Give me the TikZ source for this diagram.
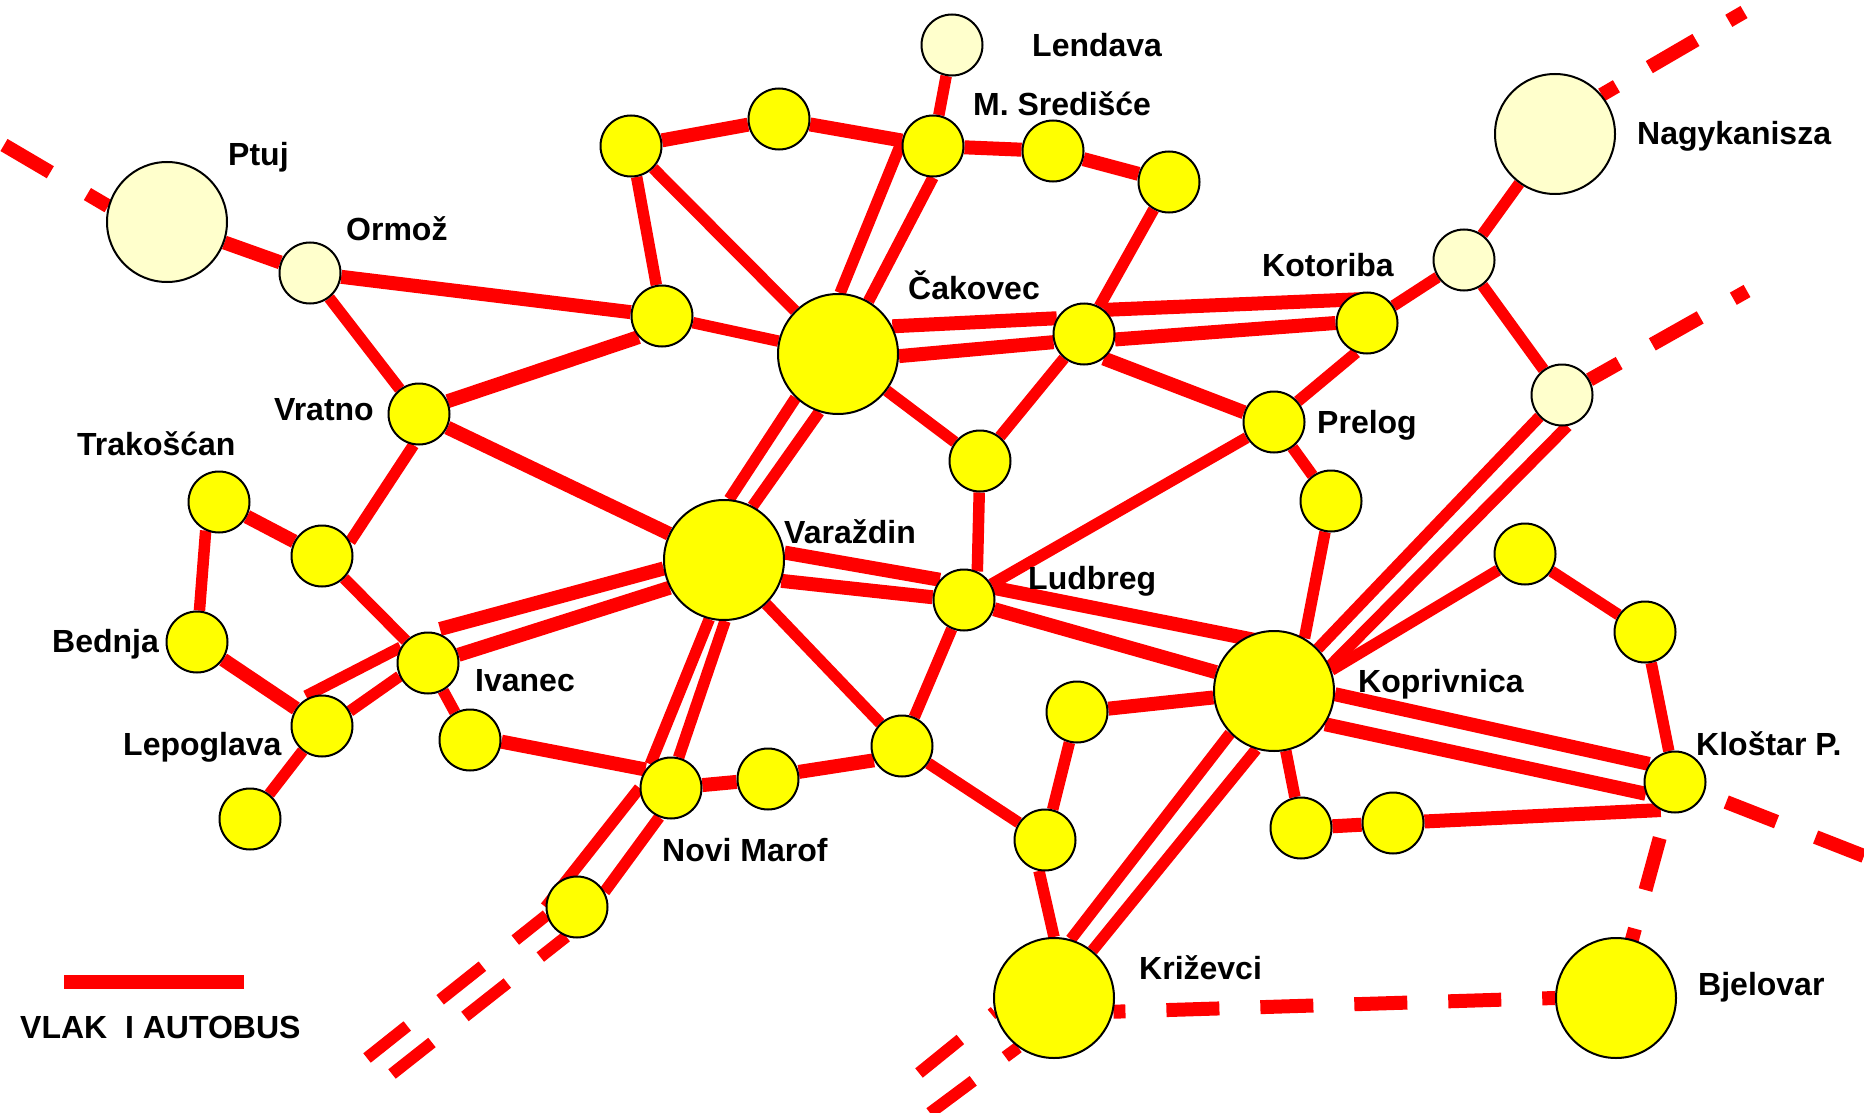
\documentclass[tikz,border=0pt]{standalone}
\usepackage{fontspec}
\setmainfont{Liberation Sans}
\usetikzlibrary{backgrounds}
\definecolor{blijeda}{RGB}{255,255,204}
\definecolor{zuta}{RGB}{255,255,0}
\definecolor{crvena}{RGB}{255,0,0}
\tikzstyle{mala} = [circle, draw=black, line width=2pt, fill=zuta, minimum size=61pt, inner sep=0pt]
\tikzstyle{velika} = [mala, minimum size=120pt]
\tikzstyle{vanjska} = [fill=blijeda]
\tikzstyle{naziv} = [anchor=base west, inner sep=0pt, font=\fontsize{32pt}{36pt}\selectfont\bfseries]
\tikzstyle{veza} = [draw=crvena, line width=14pt]
\tikzstyle{tanka} = [draw=crvena, line width=11.5pt]
\tikzstyle{crtkana} = [veza, dash pattern=on 54pt off 40pt]
\tikzstyle{crtkana2} = [tanka, line width=12pt, dash pattern=on 54pt off 42pt]
\begin{document}
\begin{tikzpicture}[x=1pt, y=-1pt]
	\useasboundingbox (0,0) rectangle (1864,1113);
	\node[velika, vanjska] (ptuj) at (167,222) {};
	\node[mala, vanjska] (ormoz) at (310,273) {};
	\node[mala] (vratno) at (419,414) {};
	\node[mala] (trakoscan) at (219,502) {};
	\node[mala] (n1) at (322,556) {};
	\node[mala] (bednja) at (197,642) {};
	\node[mala] (lepoglava) at (322,726) {};
	\node[mala] (ivanec) at (428,663) {};
	\node[mala] (n2) at (470,740) {};
	\node[mala] (n3) at (250,819) {};
	\node[velika] (varazdin) at (724,560) {};
	\node[velika] (cakovec) at (838,354) {};
	\node[mala] (n4) at (662,316) {};
	\node[mala] (n5) at (631,146) {};
	\node[mala] (n6) at (779,119) {};
	\node[mala] (sredisce) at (933,146) {};
	\node[mala, vanjska] (lendava) at (952,45) {};
	\node[mala] (n7) at (1053,151) {};
	\node[mala] (n8) at (1169,182) {};
	\node[mala] (n9) at (1084,334) {};
	\node[mala] (kotoriba) at (1367,323) {};
	\node[mala, vanjska] (n10) at (1464,260) {};
	\node[velika, vanjska] (nagykanisza) at (1555,134) {};
	\node[mala, vanjska] (n11) at (1562,395) {};
	\node[mala] (prelog) at (1274,422) {};
	\node[mala] (n12) at (980,461) {};
	\node[mala] (n13) at (1331,501) {};
	\node[mala] (ludbreg) at (964,600) {};
	\node[velika] (koprivnica) at (1274,691) {};
	\node[mala] (n14) at (1525,554) {};
	\node[mala] (n15) at (1645,632) {};
	\node[mala] (klostar) at (1675,782) {};
	\node[mala] (n16) at (1077,712) {};
	\node[mala] (n17) at (1045,840) {};
	\node[mala] (n18) at (1301,828) {};
	\node[mala] (n19) at (1393,823) {};
	\node[mala] (novimarof) at (671,788) {};
	\node[mala] (n20) at (768,779) {};
	\node[mala] (n21) at (902,746) {};
	\node[mala] (n22) at (577,907) {};
	\node[velika] (krizevci) at (1054,998) {};
	\node[velika] (bjelovar) at (1616,998) {};

	\node[naziv] (tptuj) at (228,165) {Ptuj};
	\node[naziv] (tormoz) at (346,240) {Ormož};
	\node[naziv] (tvratno) at (274,420) {Vratno};
	\node[naziv] (ttrakoscan) at (77,455) {Trakošćan};
	\node[naziv] (tvarazdin) at (784,543) {Varaždin};
	\node[naziv] (tcakovec) at (908,299) {Čakovec};
	\node[naziv] (tlendava) at (1032,57) {Lendava};
	\node[naziv] (tsredisce) at (973,116) {M. Središće};
	\node[naziv] (tnagykanisza) at (1637,145) {Nagykanisza};
	\node[naziv] (tkotoriba) at (1262,276) {Kotoriba};
	\node[naziv] (tprelog) at (1317,433) {Prelog};
	\node[naziv] (tbednja) at (52,652) {Bednja};
	\node[naziv] (tivanec) at (475,691) {Ivanec};
	\node[naziv] (tlepoglava) at (123,755) {Lepoglava};
	\node[naziv] (tnovimarof) at (662,861) {Novi Marof};
	\node[naziv] (tludbreg) at (1028,589) {Ludbreg};
	\node[naziv] (tkoprivnica) at (1358,692) {Koprivnica};
	\node[naziv] (tklostar) at (1696,755) {Kloštar P.};
	\node[naziv] (tkrizevci) at (1139,979) {Križevci};
	\node[naziv] (tbjelovar) at (1698,995) {Bjelovar};
	\node[naziv] (tlegenda) at (20,1038) {VLAK\ \ I AUTOBUS};

	\coordinate (legendaA) at (64,982);
	\coordinate (legendaB) at (244,982);
	\coordinate (ivanecA) at (440,629);
	\coordinate (lepoglavaA) at (306,696);
	\coordinate (kotoribaA) at (1366,299);
	\coordinate (koprivnicaA) at (1270,643);
	\coordinate (ptujK) at (4,145);
	\coordinate (nagyK) at (1744,12);
	\coordinate (n11K) at (1747,291);
	\coordinate (klostarK) at (1864,856);
	\coordinate (n22A) at (367,1058);
	\coordinate (n22B) at (392,1074);
	\coordinate (krizevciA) at (919,1073);
	\coordinate (krizevciB) at (930,1113);

	\begin{scope}[on background layer]
		\draw[veza] (legendaA) -- (legendaB);
		\draw[veza] (ptuj) -- (ormoz);
		\draw[veza] (ormoz) -- (n4);
		\draw[tanka] (ormoz) -- (vratno);
		\draw[veza] (vratno.24) -- (n4.222);
		\draw[veza] (vratno) -- (varazdin);
		\draw[tanka] (vratno.260) -- (n1.27);
		\draw[veza] (n1) -- (trakoscan);
		\draw[tanka] (trakoscan.245) -- (bednja);
		\draw[veza] (bednja) -- (lepoglava);
		\draw[tanka] (n1) -- (ivanec);
		\draw[tanka] (ivanec) -- (n2);
		\draw[veza] (n2.-3) -- (novimarof.144);
		\draw[tanka] (lepoglava) -- (n3);
		\draw[veza] (novimarof) -- (n20);
		\draw[veza] (n20.13) -- (n21.207);
		\draw[tanka] (varazdin) -- (n21);
		\draw[tanka] (ludbreg) -- (n21);
		\draw[tanka] (n21) -- (n17);
		\draw[tanka] (n17.259) -- (krizevci.90);
		\draw[tanka] (n17) -- (n16);
		\draw[veza] (n16) -- (koprivnica);
		\draw[tanka] (koprivnica) -- (n18);
		\draw[veza] (n18) -- (n19);
		\draw[veza] (n19) -- (klostar.243);
		\draw[tanka] (klostar) -- (n15);
		\draw[tanka] (n15) -- (n14);
		\draw[tanka] (n14) -- (koprivnica.20);
		\draw[tanka] (n13) -- (koprivnica.60);
		\draw[tanka] (n13) -- (prelog);
		\draw[tanka] (prelog) -- (ludbreg);
		\draw[tanka] (prelog.41) -- (kotoriba.250);
		\draw[veza] (prelog.162) -- (n9.309);
		\draw[tanka] (n9) -- (n12);
		\draw[tanka] (n12) -- (ludbreg.65);
		\draw[tanka] (n12) -- (cakovec);
		\draw[tanka] (n4) -- (cakovec);
		\draw[tanka] (n4) -- (n5);
		\draw[tanka] (n5) -- (cakovec);
		\draw[veza] (n5) -- (n6);
		\draw[veza] (n6) -- (sredisce);
		\draw[tanka] (sredisce) -- (lendava);
		\draw[veza] (sredisce) -- (n7);
		\draw[veza] (n7) -- (n8);
		\draw[tanka] (n8) -- (n9);
		\draw[tanka] (kotoriba) -- (n10);
		\draw[tanka] (n10) -- (nagykanisza);
		\draw[tanka] (n10) -- (n11);

		\draw[tanka] (cakovec.88) -- (sredisce.172);
		\draw[tanka] (cakovec.60) -- (sredisce.270);
		\draw[tanka] (cakovec.226) -- (varazdin.85);
		\draw[tanka] (cakovec.252) -- (varazdin.62);
		\draw[veza] (cakovec.27) -- (n9.150);
		\draw[veza] (cakovec.-2) -- (n9.195);
		\draw[veza] (n9.50) -- (kotoribaA);
		\draw[veza] (n9.-10) -- (kotoriba.180);
		\draw[veza] (varazdin.7) -- (ludbreg.140);
		\draw[veza] (varazdin.-20) -- (ludbreg.175);
		\draw[veza] (ludbreg.23) -- (koprivnicaA);
		\draw[veza] (ludbreg.-17) -- (koprivnica.162);
		\draw[veza] (varazdin.188) -- (ivanecA);
		\draw[veza] (varazdin.207) -- (ivanec.15);
		\draw[tanka] (ivanec.150) -- (lepoglavaA);
		\draw[tanka] (ivanec.205) -- (lepoglava.28);
		\draw[tanka] (varazdin.256) -- (novimarof.131);
		\draw[tanka] (varazdin.271) -- (novimarof.76);
		\draw[tanka] (novimarof.180) -- (n22.180);
		\draw[tanka] (novimarof.248) -- (n22.29);
		\draw[tanka] (n11.224) -- (koprivnica.44);
		\draw[tanka] (n11.280) -- (koprivnica.24);
		\draw[tanka] (koprivnica.224) -- (krizevci.74);
		\draw[tanka] (koprivnica.253) -- (krizevci.51);
		\draw[veza] (koprivnica.-3) -- (klostar.145);
		\draw[veza] (koprivnica.-33) -- (klostar.202);

		\draw[crtkana, dash pattern=on 54pt off 43pt, dash phase=30pt] (ptuj.165) -- (ptujK);
		\draw[crtkana, dash pattern=on 54pt off 38pt, dash phase=37pt] (nagykanisza.40) -- (nagyK);
		\draw[crtkana, dash pattern=on 55pt off 38pt, dash phase=21pt] (n11.29) -- (n11K);
		\draw[crtkana, dash pattern=on 54pt off 42pt, dash phase=41pt] (klostar.center) -- (klostarK);
		\draw[crtkana, dash pattern=on 54pt off 40pt, dash phase=36pt] (klostar.center) -- (bjelovar.center);
		\draw[crtkana, dash pattern=on 53pt off 41pt, dash phase=41pt] (krizevci.-13) -- (bjelovar.180);
		\draw[crtkana2, dash phase=14pt] (n22.195) -- (n22A);
		\draw[crtkana2, dash phase=21pt] (n22.250) -- (n22B);
		\draw[crtkana2, dash pattern=on 54pt off 40pt, dash phase=50pt] (krizevci.193) -- (krizevciA);
		\draw[crtkana2, dash pattern=on 54pt off 40pt, dash phase=38pt] (krizevci.234) -- (krizevciB);
	\end{scope}
\end{tikzpicture}
\end{document}
